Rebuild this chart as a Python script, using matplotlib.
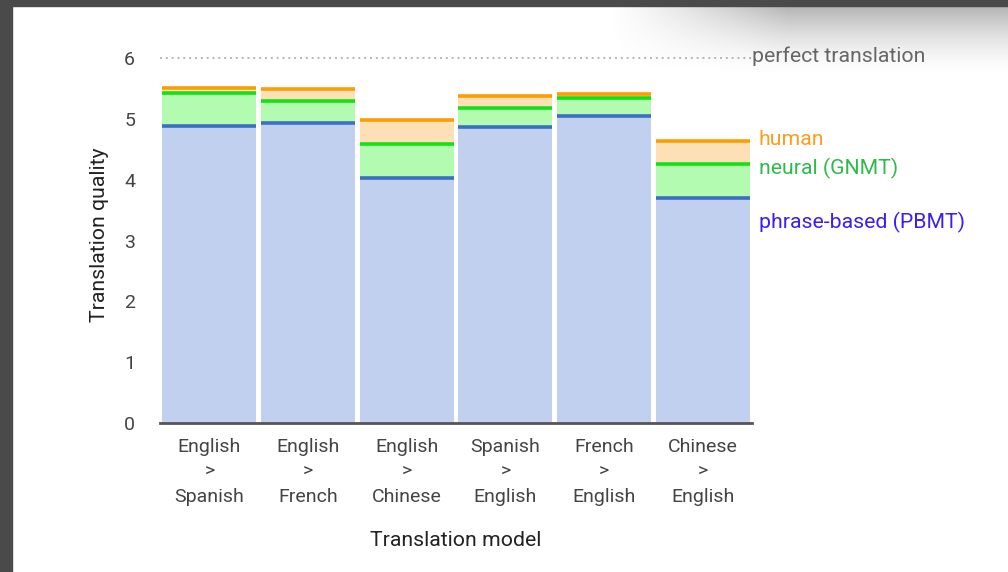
import matplotlib.pyplot as plt
import numpy as np
from matplotlib.patches import Rectangle

# ── Data ───────────────────────────────────────────────────────────────────
models = ["English\n>\nSpanish", "English\n>\nFrench", "English\n>\nChinese",
          "Spanish\n>\nEnglish", "French\n>\nEnglish", "Chinese\n>\nEnglish"]
pbmt  = [4.885, 4.932, 4.035, 4.872, 5.046, 3.694]
gnmt  = [5.428, 5.295, 4.594, 5.187, 5.343, 4.263]
human = [5.504, 5.496, 4.987, 5.372, 5.404, 4.636]
perfect = 6

# ── Aesthetics ─────────────────────────────────────────────────────────────
FILL = {"pbmt": "#c2d0ef", "gnmt": "#b2fbb0", "human": "#fde0b6"}
LINE = {"pbmt": "#3a6fc2", "gnmt": "#14e014", "human": "#ff9c00"}
TEXT = {"pbmt": "#3a1ff0", "gnmt": "#2fba4c", "human": "#ff9c1c"}

plt.rcParams["font.family"] = ["Roboto", "DejaVu Sans"]

fig = plt.figure(figsize=(10.08, 5.72), dpi=100)
fig.patch.set_facecolor("white")

# window frame + soft shadow in the top right corner
gy = np.linspace(0, 1, 70).reshape(-1, 1)
gx = np.linspace(0, 1, 400).reshape(1, -1)
alpha = (1 - gy) ** 1.6 * np.clip(gx / 0.45, 0, 1) ** 1.2 * 0.55
rgba = np.zeros((70, 400, 4))
rgba[..., :3] = 0.45
rgba[..., 3] = alpha
sh = fig.add_axes([608 / 1008, 1 - 76 / 572, 400 / 1008, 70 / 572])
sh.imshow(rgba, aspect="auto", interpolation="bilinear")
sh.axis("off")
fig.patches.append(Rectangle((0, 1 - 6 / 572), 1, 6 / 572, transform=fig.transFigure,
                             color="#4a4a4a", zorder=5))
fig.patches.append(Rectangle((0, 0), 12 / 1008, 1, transform=fig.transFigure,
                             color="#4a4a4a", zorder=5))

ax = fig.add_axes([160 / 1008, 1 - 423 / 572, 592 / 1008, 377 / 572])
x = np.arange(len(models))
w = 0.95

ax.bar(x, pbmt, width=w, color=FILL["pbmt"], zorder=2)
ax.bar(x, np.subtract(gnmt, pbmt), bottom=pbmt, width=w, color=FILL["gnmt"], zorder=2)
ax.bar(x, np.subtract(human, gnmt), bottom=gnmt, width=w, color=FILL["human"], zorder=2)
for key, vals in [("pbmt", pbmt), ("gnmt", gnmt), ("human", human)]:
    ax.hlines(vals, x - w / 2, x + w / 2, colors=LINE[key], linewidth=2.6, zorder=3)

ax.axhline(perfect, color="#b5b5b5", linestyle=(0, (1, 2)), linewidth=1.4, zorder=1)
ax.text(5.5, perfect + 0.03, "perfect translation", color="#666666", fontsize=15.3,
        ha="left", va="center", clip_on=False)

ax.text(5.57, 4.67, "human", color=TEXT["human"], fontsize=15.3, va="center")
ax.text(5.57, 4.19, "neural (GNMT)", color=TEXT["gnmt"], fontsize=15.3, va="center")
ax.text(5.57, 3.30, "phrase-based (PBMT)", color=TEXT["pbmt"], fontsize=15.3, va="center")

ax.set_xlim(-0.5, 5.5)
ax.set_ylim(0, 6.2)
ax.set_yticks(range(0, 7))
ax.set_xticks(x)
ax.set_xticklabels(models, linespacing=1.5)
ax.tick_params(axis="both", length=0, labelsize=14, labelcolor="#444444")
ax.tick_params(axis="y", pad=18)
ax.tick_params(axis="x", pad=11)
for s in ["top", "right", "left"]:
    ax.spines[s].set_visible(False)
ax.spines["bottom"].set_color("#555555")
ax.spines["bottom"].set_linewidth(2)
ax.spines["bottom"].set_zorder(4)
ax.set_facecolor("none")

ax.set_xlabel("Translation model", fontsize=15.3, color="#222222", labelpad=18)
ax.set_ylabel("Translation quality", fontsize=15.3, color="#222222", labelpad=11)

fig.savefig("out.png", dpi=100)
